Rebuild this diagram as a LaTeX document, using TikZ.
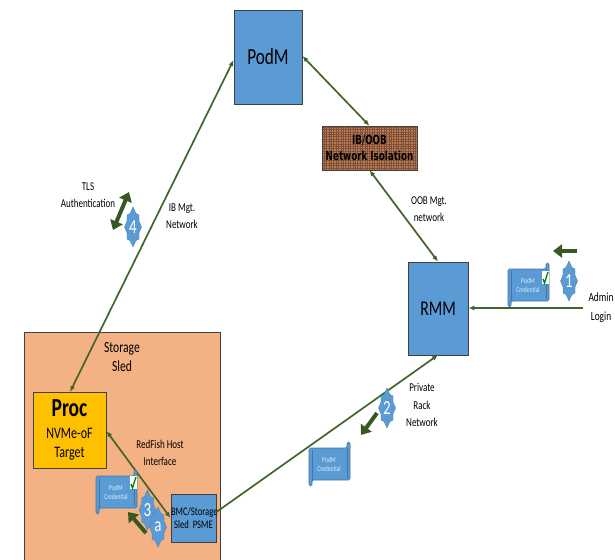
\documentclass[tikz,border=0pt]{standalone}
\usepackage{fontspec}
\setmainfont[FakeStretch=0.75]{Carlito}
\newfontfamily\isofont[FakeStretch=0.7]{DejaVu Sans}
\usetikzlibrary{arrows.meta, positioning, patterns.meta}
\definecolor{boxblue}{HTML}{5B9BD5}
\definecolor{linegreen}{HTML}{41662B}
\definecolor{blockgreen}{HTML}{385723}
\definecolor{sledorange}{HTML}{F4B183}
\definecolor{procyellow}{HTML}{FFC000}
\definecolor{brickbrown}{HTML}{BF7C55}

\begin{document}
\begin{tikzpicture}[
  x=1pt, y=-1pt,
  box/.style={draw=black!75, fill=boxblue, line width=0.8pt, align=center, inner sep=0pt},
  lbl/.style={align=center, font=\fontsize{12}{17.5}\selectfont, inner sep=0pt},
  arr/.style={{Latex[length=6pt,width=5pt]}-{Latex[length=6pt,width=5pt]}, line width=1.7pt, linegreen},
  onearr/.style={-{Latex[length=6pt,width=5pt]}, line width=1.7pt, linegreen},
  blockarr/.style={-{Triangle[length=9pt,width=13pt]}, line width=4pt, blockgreen},
  blockboth/.style={{Triangle[length=9pt,width=13pt]}-{Triangle[length=9pt,width=13pt]}, line width=4pt, blockgreen},
  badge/.pic={
    \draw[fill=boxblue, draw=boxblue!80!black, line width=0.3pt]
      (0,-20) -- (3,-13.5) -- (6,-12) -- (6,-6) -- (8.5,0) -- (6,6) -- (6,12)
      -- (3,13.5) -- (0,20) -- (-3,13.5) -- (-6,12) -- (-6,6) -- (-8.5,0)
      -- (-6,-6) -- (-6,-12) -- (-3,-13.5) -- cycle;
    \node[text=white, font=\fontsize{20}{20}\selectfont, inner sep=0pt] (-num) at (0,0) {#1};
  },
  credential/.pic={
    \draw[fill=boxblue, draw=boxblue!75!black, line width=0.6pt, rounded corners=1.5pt]
      (0,6) -- (38,6) -- (38,0) -- (41,0) -- (41,38) -- (3,38) -- (3,44) -- (0,44) -- cycle;
    \draw[boxblue!75!black, line width=0.5pt] (3,8) -- (3,38) (38,6) -- (38,36);
    \node[text=white!80!boxblue, align=center, font=\fontsize{7.5}{9}\selectfont, inner sep=0pt] (-text) at (20,22) {PodM\\Credential};
  },
  tick/.pic={
    \fill[white] (0,0) rectangle (6.5,13);
    \draw[green!50!black, line width=1.3pt] (1,8) -- (2.5,12) -- (6,1);
  }
]
\useasboundingbox (0,0) rectangle (615,559);

% sled and boxes
\node[box, fill=sledorange, minimum width=196pt, minimum height=228pt] (sled) at (122,446) {};
\node[lbl, font=\fontsize{15.5}{19}\selectfont] (sledlabel) at (122,357) {Storage\\Sled};
\node[box, minimum width=68pt, minimum height=94pt, font=\fontsize{23}{24}\selectfont] (podm) at (268,57) {PodM};
\node[box, preaction={fill=brickbrown}, pattern={Hatch[angle=0,distance=2.4pt,line width=0.3pt]}, pattern color=brickbrown!65!black, minimum width=95pt, minimum height=44pt] (isolation) at (369.5,148) {};
\node[align=center, inner sep=0pt, font=\isofont\fontsize{12.5}{16}\selectfont\bfseries] (isolationlabel) at (369.5,148) {IB/OOB\\Network Isolation};
\node[box, minimum width=60pt, minimum height=93pt, font=\fontsize{21}{24}\selectfont] (rmm) at (438,308.5) {RMM};
\node[box, fill=procyellow, minimum width=73pt, minimum height=76pt, font=\fontsize{16}{19}\selectfont] (proc) at (69.5,430) {{\fontsize{26}{26}\selectfont\bfseries Proc}\\[3pt]NVMe-oF\\Target};
\node[box, text width=45pt, minimum height=48pt, font=\fontsize{11.5}{13}\selectfont] (psme) at (193.5,518) {BMC/Storage\\Sled PSME};

\coordinate (adminend) at (583,308);
\node[lbl, font=\fontsize{12.5}{19}\selectfont] (admin) at (601,308) {Admin\\Login};

% connectors
\draw[arr] (podm.east |- 0,56) -- (isolation.north);
\draw[arr] (isolation.south) -- (rmm.north);
\draw[arr] (podm.west |- 0,60) -- (70,392);
\draw[arr] (proc.east |- 0,431) -- (psme.west);
\draw[onearr] (psme.east |- 0,512) -- (rmm.south |- 0,355);
\draw[onearr] (adminend) -- (rmm.east |- adminend);

% credentials
\pic (cred1) at (508,263) {credential};
\pic (cred1tick) at (542,271) {tick};
\pic (cred2) at (309,442) {credential};
\pic (cred3) at (96,470) {credential};
\pic (cred3tick) at (130,476) {tick};

% steps
\pic (stepone) at (569,281) {badge={1}};
\pic (steptwo) at (387,408) {badge={2}};
\pic (stepthree) at (147.5,510) {badge={3}};
\pic (stepa) at (158,527) {badge={a}};
\pic (stepfour) at (133,227) {badge={4}};

\coordinate (onefrom) at (577,251);
\coordinate (oneto) at (553,251);
\coordinate (twofrom) at (377,413);
\coordinate (twoto) at (361,435);
\coordinate (threefrom) at (146,533);
\coordinate (threeto) at (128,512);
\coordinate (fourfrom) at (129,192);
\coordinate (fourto) at (113,230);
\draw[blockarr] (onefrom) -- (oneto);
\draw[blockarr] (twofrom) -- (twoto);
\draw[blockarr] (threefrom) -- (threeto);
\draw[blockboth] (fourfrom) -- (fourto);

% labels
\node[lbl] (tlslabel) at (88,195) {TLS\\Authentication};
\node[lbl] (iblabel) at (182,216) {IB Mgt.\\Network};
\node[lbl] (ooblabel) at (429,209) {OOB Mgt.\\network};
\node[lbl] (racklabel) at (422,405) {Private\\Rack\\Network};
\node[lbl] (hostlabel) at (160,453) {RedFish Host\\Interface};
\end{tikzpicture}
\end{document}
